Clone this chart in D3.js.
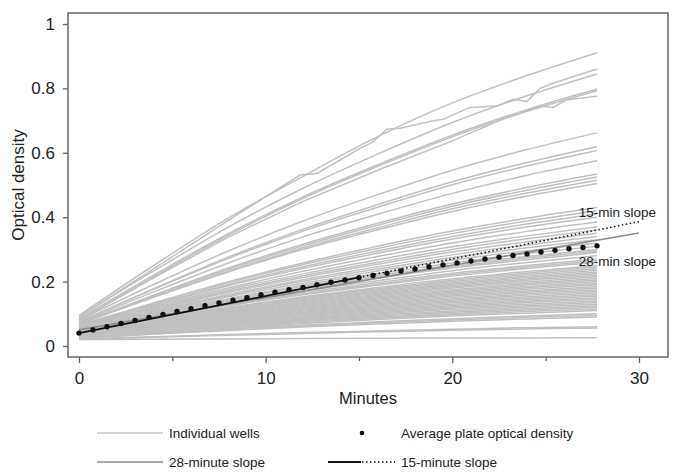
<!DOCTYPE html>
<html><head><meta charset="utf-8">
<script src="https://cdn.jsdelivr.net/npm/d3@7"></script>
<style>
body{margin:0;background:#fff;}
text{font-family:"Liberation Sans",Arial,sans-serif;fill:#222;}
</style></head>
<body><svg id="c" width="682" height="475"></svg>
<script>
// ---------- data ----------
const xTicks = [0, 10, 20, 30];
const xMinorTicks = [5, 15, 25];
const yTicks = [0, 0.2, 0.4, 0.6, 0.8, 1];

const wellTimes = [0, 4, 8, 12, 16, 20, 24, 27.75];
const wells = [
  [.095,.250,.397,.527,.650,.755,.840,.911],
  [.09,.233,.369,.490,.596,.694,.777,.845],
  [.085,.220,.349,.463,.563,.655,.734,.798],
  [.08,.215,.344,.458,.558,.650,.729,.793],
  [.08,.191,.295,.388,.470,.546,.610,.662],
  [.075,.178,.276,.363,.439,.510,.570,.619],
  [.075,.176,.272,.357,.431,.501,.559,.607],
  [.072,.168,.258,.339,.409,.474,.530,.575],
  [.07,.158,.242,.316,.381,.441,.492,.534],
  [.07,.156,.238,.311,.375,.434,.484,.525],
  [.068,.153,.233,.305,.367,.426,.475,.515],
  [.068,.151,.230,.300,.361,.418,.466,.505],
  [.065,.134,.200,.258,.310,.357,.397,.43],
  [.065,.132,.196,.253,.303,.349,.388,.42],
  [.062,.128,.191,.246,.295,.340,.379,.41],
  [.062,.126,.187,.241,.288,.332,.370,.40],
  [.06,.122,.180,.232,.278,.320,.356,.385],
  [.06,.119,.175,.224,.268,.308,.342,.37],
  [.058,.115,.170,.218,.260,.300,.333,.36],
  [.058,.113,.166,.213,.254,.292,.324,.35],
  [.055,.109,.160,.206,.246,.283,.314,.34],
  [.055,.107,.157,.201,.239,.275,.305,.33],
  [.055,.105,.153,.195,.233,.267,.296,.32],
  [.052,.101,.147,.189,.225,.258,.287,.31],
  [.055,.102,.146,.185,.219,.251,.278,.30],
  [.05,.097,.141,.180,.214,.246,.273,.295],
  [.05,.096,.139,.177,.211,.242,.268,.29],
  [.048,.092,.134,.171,.203,.234,.259,.28],
  [.048,.090,.130,.166,.197,.226,.250,.27],
  [.045,.087,.126,.162,.192,.221,.245,.265],
  [.045,.086,.125,.159,.189,.217,.241,.26],
  [.044,.083,.120,.153,.182,.209,.231,.25],
  [.042,.081,.117,.150,.178,.204,.227,.245],
  [.042,.080,.115,.147,.175,.200,.222,.24],
  [.04,.077,.112,.143,.171,.196,.217,.235],
  [.04,.076,.110,.141,.167,.192,.213,.23],
  [.04,.075,.108,.138,.164,.188,.208,.225],
  [.038,.073,.105,.134,.160,.184,.204,.22],
  [.038,.072,.103,.132,.157,.180,.199,.215],
  [.036,.069,.100,.128,.153,.175,.194,.21],
  [.036,.068,.099,.126,.149,.171,.190,.205],
  [.035,.066,.096,.122,.146,.167,.185,.20],
  [.035,.065,.094,.120,.142,.163,.181,.195],
  [.034,.064,.092,.117,.139,.159,.176,.19],
  [.034,.063,.090,.114,.135,.155,.171,.185],
  [.033,.061,.087,.111,.131,.151,.167,.18],
  [.032,.059,.085,.108,.128,.146,.162,.175],
  [.032,.058,.083,.105,.124,.142,.158,.17],
  [.031,.056,.081,.102,.121,.138,.153,.165],
  [.03,.055,.078,.099,.117,.134,.148,.16],
  [.03,.054,.076,.096,.114,.130,.144,.155],
  [.03,.053,.074,.094,.110,.126,.139,.15],
  [.029,.051,.072,.090,.107,.122,.135,.145],
  [.028,.049,.069,.087,.103,.118,.130,.14],
  [.028,.048,.068,.085,.100,.114,.125,.135],
  [.027,.047,.065,.082,.096,.109,.121,.13],
  [.027,.046,.063,.079,.093,.105,.116,.125],
  [.026,.044,.061,.076,.089,.101,.112,.12],
  [.026,.043,.059,.073,.086,.097,.107,.115],
  [.025,.041,.056,.070,.082,.093,.102,.11],
  [.025,.039,.053,.065,.075,.085,.093,.10],
  [.024,.037,.050,.062,.072,.081,.089,.095],
  [.024,.037,.048,.059,.068,.077,.084,.09],
  [.022,.029,.036,.042,.047,.052,.057,.06],
  [.02,.027,.033,.039,.044,.049,.053,.056],
  [.02,.021,.022,.023,.024,.025,.025,.026]
];
// wells with visible reading jumps
const kinkTimes = [0, 4, 8, 11.84, 12.75, 15.05, 15.75, 16.48, 17.2, 18.8, 19.5, 20.94, 22.37, 23.26, 23.98, 24.7, 25.4, 27.75];
const kinkWell = [0.09, 0.24, 0.39, 0.531, 0.536, 0.614, 0.634, 0.673, 0.676, 0.697, 0.704, 0.741, 0.745, 0.766, 0.759, 0.800, 0.816, 0.860];
const kinkTimes2 = [0, 4, 8, 12, 16, 20, 22.5, 24.7, 25.4, 26.1, 27.75];
const kinkWell2 = [0.08, 0.212, 0.338, 0.449, 0.546, 0.637, 0.700, 0.745, 0.741, 0.764, 0.776];

const avgTimes = [0,0.75,1.5,2.25,3,3.75,4.5,5.25,6,6.75,7.5,8.25,9,9.75,10.5,11.25,12,12.75,13.5,14.25,15,15.75,16.5,17.25,18,18.75,19.5,20.25,21,21.75,22.5,23.25,24,24.75,25.5,26.25,27,27.75];
const avgOD = [0.040,0.050,0.060,0.070,0.079,0.089,0.098,0.107,0.116,0.125,0.134,0.142,0.150,0.159,0.167,0.175,0.182,0.190,0.198,0.205,0.212,0.219,0.226,0.233,0.239,0.246,0.252,0.258,0.264,0.270,0.276,0.281,0.286,0.292,0.297,0.302,0.306,0.311];

const slope15X = [0, 15, 30];
const slope15Y = [0.040, 0.213, 0.386];
const slope28X = [0, 30];
const slope28Y = [0.050, 0.351];

// ---------- drawing ----------
const svg = d3.select("#c");
const L = 68, R = 668, T = 13, B = 357;
const x = d3.scaleLinear().domain([0, 30]).range([79, 639]);
const y = d3.scaleLinear().domain([0, 1]).range([346, 24]);

const wellColor = "#c0c0c0";
const line = d3.line().x(d => x(d[0])).y(d => y(d[1]));
const smooth = d3.line().x(d => x(d[0])).y(d => y(d[1])).curve(d3.curveMonotoneX);

const gW = svg.append("g");
wells.forEach(w => {
  gW.append("path").attr("d", smooth(wellTimes.map((t, i) => [t, w[i]])))
    .attr("fill", "none").attr("stroke", wellColor).attr("stroke-width", 1.5);
});
gW.append("path").attr("d", line(kinkTimes.map((t, i) => [t, kinkWell[i]])))
  .attr("fill", "none").attr("stroke", wellColor).attr("stroke-width", 1.5);
gW.append("path").attr("d", line(kinkTimes2.map((t, i) => [t, kinkWell2[i]])))
  .attr("fill", "none").attr("stroke", wellColor).attr("stroke-width", 1.5);

// 28-minute slope
svg.append("path").attr("d", line(slope28X.map((t, i) => [t, slope28Y[i]])))
  .attr("fill", "none").attr("stroke", "#8c8c8c").attr("stroke-width", 1.6);

// 15-minute slope: solid to 15 min, dotted beyond
svg.append("path").attr("d", line([[slope15X[0], slope15Y[0]], [slope15X[1], slope15Y[1]]]))
  .attr("fill", "none").attr("stroke", "#111").attr("stroke-width", 1.8);
svg.append("path").attr("d", line([[slope15X[1], slope15Y[1]], [slope15X[2], slope15Y[2]]]))
  .attr("fill", "none").attr("stroke", "#111").attr("stroke-width", 1.5)
  .attr("stroke-dasharray", "1.5,2.5");

// average dots
svg.append("g").selectAll("circle").data(avgTimes).join("circle")
  .attr("cx", d => x(d)).attr("cy", (d, i) => y(avgOD[i])).attr("r", 2.7).attr("fill", "#111");

// annotations
svg.append("text").attr("x", 656).attr("y", 217).attr("text-anchor", "end")
  .style("font-size", "13.5px").text("15-min slope");
svg.append("text").attr("x", 656).attr("y", 266).attr("text-anchor", "end")
  .style("font-size", "13.5px").text("28-min slope");

// frame
svg.append("rect").attr("x", L).attr("y", T).attr("width", R - L).attr("height", B - T)
  .attr("fill", "none").attr("stroke", "#666").attr("stroke-width", 1.5);

// axes
const ax = svg.append("g").attr("transform", `translate(0,${B})`)
  .call(d3.axisBottom(x).tickValues(xTicks).tickSize(6).tickPadding(9).tickFormat(d3.format("d")));
const axm = svg.append("g").attr("transform", `translate(0,${B})`)
  .call(d3.axisBottom(x).tickValues(xMinorTicks).tickSize(4).tickFormat(""));
const ay = svg.append("g").attr("transform", `translate(${L},0)`)
  .call(d3.axisLeft(y).tickValues(yTicks).tickSize(5).tickPadding(8).tickFormat(d => d === 0 ? "0" : d === 1 ? "1" : d3.format(".1f")(d)));
[ax, axm, ay].forEach(g => {
  g.select(".domain").remove();
  g.selectAll("line").attr("stroke", "#666").attr("stroke-width", 1.3);
  g.selectAll("text").style("font-size", "17px").style("font-family", "'Liberation Sans',Arial,sans-serif").attr("fill", "#222");
});

svg.append("text").attr("x", (L + R) / 2).attr("y", 404).attr("text-anchor", "middle")
  .style("font-size", "16.5px").text("Minutes");
svg.append("text").attr("transform", `translate(24,${(24 + 346) / 2}) rotate(-90)`).attr("text-anchor", "middle")
  .style("font-size", "17px").text("Optical density");

// legend
const lg = svg.append("g").style("font-size", "13.5px");
lg.append("line").attr("x1", 97).attr("x2", 163).attr("y1", 433).attr("y2", 433).attr("stroke", "#c6c6c6").attr("stroke-width", 1.6);
lg.append("text").attr("x", 169).attr("y", 433).attr("dy", "0.35em").text("Individual wells");
lg.append("circle").attr("cx", 362).attr("cy", 433).attr("r", 2.3).attr("fill", "#111");
lg.append("text").attr("x", 401).attr("y", 433).attr("dy", "0.35em").text("Average plate optical density");
lg.append("line").attr("x1", 97).attr("x2", 163).attr("y1", 462).attr("y2", 462).attr("stroke", "#8c8c8c").attr("stroke-width", 1.6);
lg.append("text").attr("x", 169).attr("y", 462).attr("dy", "0.35em").text("28-minute slope");
lg.append("line").attr("x1", 328).attr("x2", 361).attr("y1", 462).attr("y2", 462).attr("stroke", "#111").attr("stroke-width", 1.8);
lg.append("line").attr("x1", 362).attr("x2", 395).attr("y1", 462).attr("y2", 462).attr("stroke", "#111").attr("stroke-width", 1.5).attr("stroke-dasharray", "1.5,2.5");
lg.append("text").attr("x", 401).attr("y", 462).attr("dy", "0.35em").text("15-minute slope");
</script></body></html>
